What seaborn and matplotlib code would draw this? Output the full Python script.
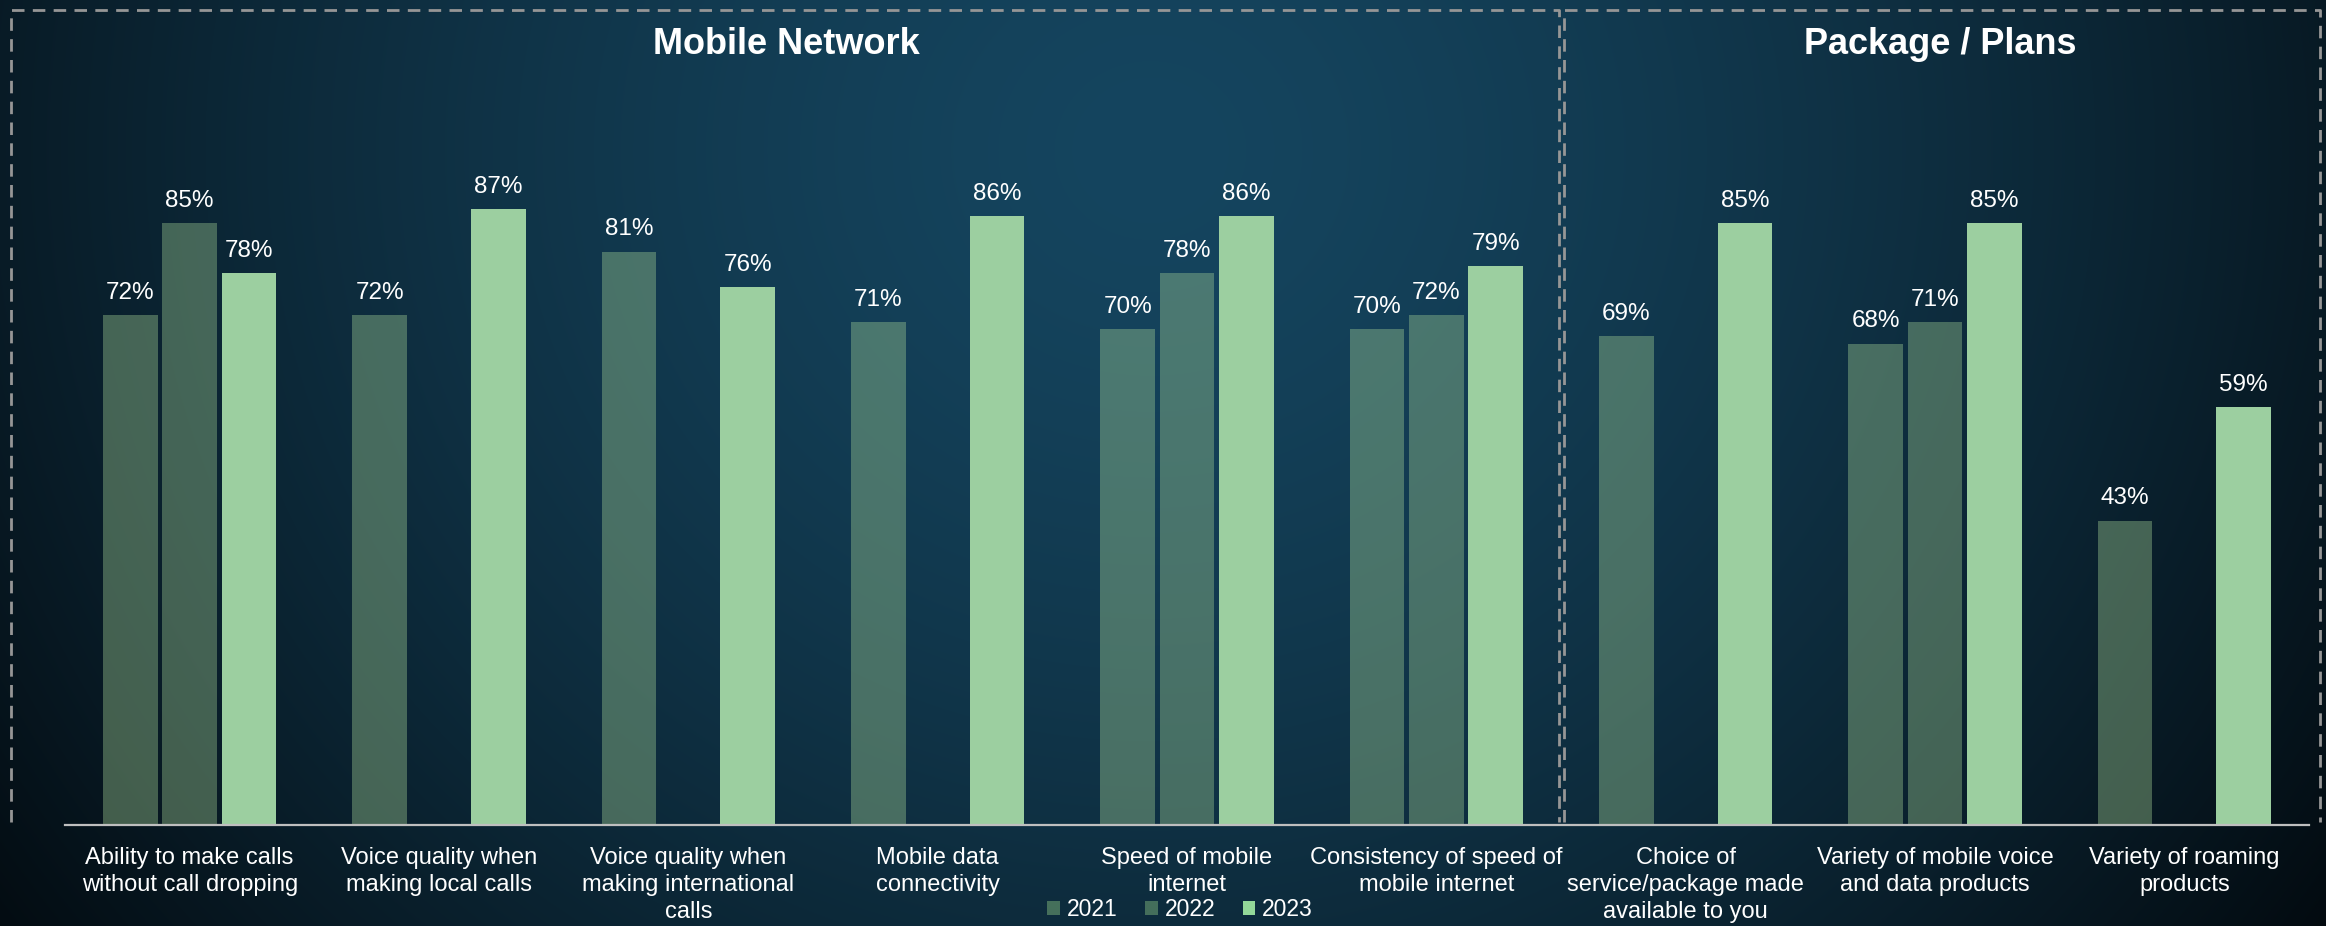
import numpy as np
import pandas as pd
import matplotlib
matplotlib.use('Agg')
import matplotlib.pyplot as plt
import matplotlib.colors as mcolors
from matplotlib.lines import Line2D
from matplotlib.patches import Patch
import seaborn as sns

# data
categories = ['Ability to make calls\nwithout call dropping',
              'Voice quality when\nmaking local calls',
              'Voice quality when\nmaking international\ncalls',
              'Mobile data\nconnectivity',
              'Speed of mobile\ninternet',
              'Consistency of speed of\nmobile internet',
              'Choice of\nservice/package made\navailable to you',
              'Variety of mobile voice\nand data products',
              'Variety of roaming\nproducts']
years = ['2021', '2022', '2023']
y2021 = [0.72, 0.72, 0.81, 0.71, 0.70, 0.70, 0.69, 0.68, 0.43]
y2022 = [0.85, np.nan, np.nan, np.nan, 0.78, 0.72, np.nan, 0.71, np.nan]
y2023 = [0.78, 0.87, 0.76, 0.86, 0.86, 0.79, 0.85, 0.85, 0.59]
section_titles = ['Mobile Network', 'Package / Plans']

df = pd.DataFrame({'Category': categories * 3,
                   'Year': [y for y in years for _ in categories],
                   'Value': y2021 + y2022 + y2023}).dropna()

palette = {'2021': '#a0dc8c', '2022': '#a0dc8c', '2023': '#93d899'}
alphas = {'2021': 0.39, '2022': 0.38, '2023': 1.0}

sns.set_style('white')
plt.rcParams['font.family'] = ['Liberation Sans', 'DejaVu Sans']

W, H = 2326, 926
fig = plt.figure(figsize=(W / 100, H / 100), dpi=100)

# radial background
bg_ax = fig.add_axes([0, 0, 1, 1], zorder=-10)
yy, xx = np.mgrid[0:H, 0:W]
d = np.sqrt(((xx - 1150) / 1500.0) ** 2 + ((yy - 150) / 1400.0) ** 2)
t = np.clip(d, 0, 1) ** 1.5
c0 = np.array(mcolors.to_rgb('#15455f'))
c1 = np.array(mcolors.to_rgb('#02070b'))
img = c0[None, None, :] * (1 - t[..., None]) + c1[None, None, :] * t[..., None]
bg_ax.imshow(img, aspect='auto', extent=(0, 1, 0, 1))
bg_ax.axis('off')

ax = fig.add_axes([65 / W, 1 - 825 / H, (2309 - 65) / W, (825 - 117) / H])
ax.set_facecolor('none')

sns.barplot(data=df, x='Category', y='Value', hue='Year', order=categories,
            hue_order=years, palette=palette, width=0.714, gap=0.075,
            errorbar=None, linewidth=0, legend=False, ax=ax)

for year, cont in zip(years, ax.containers):
    for bar in cont:
        bar.set_alpha(alphas[year])
    ax.bar_label(cont, labels=[f'{b.get_height():.0%}' for b in cont],
                 padding=8, color='white', fontsize=17.5)

ax.set_xlim(-0.5, len(categories) - 0.5)
ax.set_ylim(0, 1)
ax.set_xlabel('')
ax.set_ylabel('')
ax.set_yticks([])
for s in ['left', 'top', 'right']:
    ax.spines[s].set_visible(False)
ax.spines['bottom'].set_color('#bfbfbf')
ax.spines['bottom'].set_linewidth(1.6)
ax.set_xticks(np.arange(-0.5, len(categories), 1), minor=True)
ax.tick_params(axis='x', which='major', length=0, pad=16, labelcolor='white',
               labelsize=17)
ax.tick_params(axis='x', which='minor', length=7, width=1.3, color='#bfbfbf')
for lab in ax.get_xticklabels():
    lab.set_linespacing(1.3)

# dashed section frames (open at the bottom), split after the 6th category
x_div = fig.transFigure.inverted().transform(ax.transData.transform((5.5, 0)))[0]
x_left, x_right = 11 / W, 2320 / W
y_bot, y_top = 1 - 822 / H, 1 - 10 / H
gap = 2.5 / W
dash = dict(color='#969696', linewidth=2.0, linestyle=(0, (4.5, 3)),
            transform=fig.transFigure, zorder=5)
for x0, x1 in [(x_left, x_div - gap), (x_div + gap, x_right)]:
    fig.add_artist(Line2D([x0, x0, x1, x1], [y_bot, y_top, y_top, y_bot], **dash))
fig.text((x_left + x_div) / 2, 1 - 44 / H, section_titles[0], color='white',
         fontsize=26, fontweight='bold', ha='center', va='center')
fig.text((x_div + x_right) / 2, 1 - 44 / H, section_titles[1], color='white',
         fontsize=26, fontweight='bold', ha='center', va='center')

handles = [Patch(facecolor=palette[y], alpha=alphas[y], linewidth=0) for y in years]
fig.legend(handles, years, loc='center', bbox_to_anchor=(1180 / W, 1 - 910 / H),
           ncol=3, frameon=False, fontsize=16.5, labelcolor='white',
           handlelength=0.55, handleheight=0.55, handletextpad=0.3,
           columnspacing=1.2)

fig.savefig('out.png', dpi=100)
